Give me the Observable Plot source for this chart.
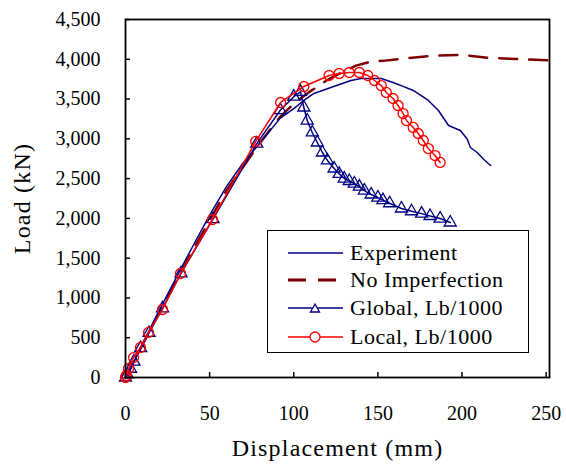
<!DOCTYPE html>
<html><head><meta charset="utf-8">
<script src="https://cdn.jsdelivr.net/npm/d3@7"></script>
<script src="https://cdn.jsdelivr.net/npm/@observablehq/plot@0.6"></script>
<style>
body{margin:0;background:#fff}
#wrap{position:relative;width:566px;height:466px}
#legend{position:absolute;left:267px;top:230px;width:262px;height:123px;border:1.5px solid #000;background:#fff;box-sizing:border-box;font-family:"Liberation Serif",serif;font-size:22px;letter-spacing:0.5px;color:#000}
.row{position:absolute;left:0;height:28px;line-height:28px;white-space:nowrap}
.row svg{position:absolute;left:20px;top:4px}
.row span{position:absolute;left:82px;top:0}
</style></head>
<body><div id="wrap"></div>
<script>
const xTicks = [0, 50, 100, 150, 200, 250];
const yTicks = [0, 500, 1000, 1500, 2000, 2500, 3000, 3500, 4000, 4500];
const seriesNames = ["Experiment", "No Imperfection", "Global, Lb/1000", "Local, Lb/1000"];
const xLabel = "Displacement (mm)";
const yLabel = "Load (kN)";

const experiment = [[0,0],[3,100],[10,420],[20,840],[30,1250],[40,1650],[50,2040],[60,2400],[70,2700],[80,2950],[92,3260],[100,3380],[106,3482],[112,3570],[122,3645],[134,3733],[140,3758],[152,3758],[159,3708],[165,3660],[171,3608],[176,3540],[180,3482],[186,3356],[192,3168],[199,3105],[203,3000],[205,2891],[209,2828],[213,2740],[217,2665]];
const noImperfection = [[0,0],[20,820],[40,1600],[60,2350],[80,2950],[92,3280],[100,3440],[110,3600],[120,3740],[130,3850],[137,3920],[146,3972],[153,3980],[165,4010],[185,4048],[200,4055],[215,4020],[235,4000],[252,3985]];
const globalImp = [[0,0],[1,40],[3,110],[5,200],[9,370],[14,560],[22,870],[33,1310],[52,1990],[78,2940],[92,3360],[100,3530],[104,3590],[106,3394],[108,3230],[111,3080],[114,2954],[117,2828],[120,2728],[124,2627],[127,2560],[130,2501],[133,2470],[136,2438],[139,2400],[142,2350],[146,2300],[150,2262],[153,2230],[157,2190],[164,2124],[170,2090],[176,2060],[181,2030],[187,1998],[193,1948]];
const localImp = [[0,0],[0.5,25],[1.8,113],[4.8,251],[8.9,377],[13.7,566],[22,855],[32.7,1307],[51.7,1986],[77.4,2967],[92.2,3457],[106,3658],[121,3796],[127,3821],[133,3834],[139,3834],[144,3796],[148,3733],[152,3670],[155,3583],[159,3507],[162,3419],[165,3318],[167,3230],[171,3143],[174,3067],[177,2979],[180,2878],[184,2790],[187,2703]];

const toObj = a => a.map(([x, y]) => ({x, y}));
const NAVY = "#000080", RED = "#ff0000", MAROON = "#800000";
const fmt = d3.format(",");

const chart = Plot.plot({
  width: 566, height: 466,
  marginLeft: 125, marginRight: 17, marginTop: 19, marginBottom: 89,
  style: {fontFamily: "Liberation Serif, serif", fontSize: "20px", color: "#000", background: "#fff"},
  x: {domain: [0, 252]},
  y: {domain: [0, 4500]},
  marks: [
    Plot.axisX({ticks: xTicks, tickSize: -5, tickPadding: 33, label: null, tickFormat: d => String(d), strokeWidth: 1.5}),
    Plot.axisY({ticks: yTicks, tickSize: -5, tickPadding: 30, label: null, tickFormat: fmt, strokeWidth: 1.5}),
    Plot.line(toObj(noImperfection), {x: "x", y: "y", stroke: MAROON, strokeWidth: 2.5, strokeDasharray: "18,12"}),
    Plot.line(toObj(experiment), {x: "x", y: "y", stroke: NAVY, strokeWidth: 1.5}),
    Plot.line(toObj(globalImp), {x: "x", y: "y", stroke: NAVY, strokeWidth: 1.5}),
    Plot.dot(toObj(globalImp), {x: "x", y: "y", symbol: "triangle", r: 4.5, stroke: NAVY, fill: "none", strokeWidth: 1.3}),
    Plot.line(toObj(localImp), {x: "x", y: "y", stroke: RED, strokeWidth: 1.5}),
    Plot.dot(toObj(localImp), {x: "x", y: "y", r: 5, stroke: RED, fill: "none", strokeWidth: 1.3}),
    Plot.frame({stroke: "#000", strokeWidth: 1.8}),
    Plot.text([xLabel], {frameAnchor: "bottom", textAnchor: "middle", lineAnchor: "middle", dy: 71, fontSize: 24}),
    Plot.text([yLabel], {frameAnchor: "left", textAnchor: "middle", lineAnchor: "middle", dx: -103, dy: 0, rotate: -90, fontSize: 24})
  ]
});
d3.select(chart).selectAll("text")
  .filter(function () { return this.textContent === xLabel || this.textContent === yLabel; })
  .attr("letter-spacing", "1.2px");
const wrap = document.getElementById("wrap");
wrap.appendChild(chart);

// legend
const legend = document.createElement("div");
legend.id = "legend";
const styles = [
  {stroke: NAVY, dash: null, w: 1.5, sym: null},
  {stroke: MAROON, dash: "18,12", w: 3, sym: null},
  {stroke: NAVY, dash: null, w: 1.5, sym: "tri"},
  {stroke: RED, dash: null, w: 1.5, sym: "circ"}
];
const rowCenters = [22, 49, 77, 106];
seriesNames.forEach((name, i) => {
  const s = styles[i];
  const row = document.createElement("div");
  row.className = "row";
  row.style.top = (rowCenters[i] - 14) + "px";
  let sym = "";
  if (s.sym === "tri") sym = `<path d="M27,6 L31.5,14 L22.5,14 Z" fill="white" stroke="${s.stroke}" stroke-width="1.3"/>`;
  if (s.sym === "circ") sym = `<circle cx="27" cy="10" r="5" fill="white" stroke="${s.stroke}" stroke-width="1.3"/>`;
  row.innerHTML = `<svg width="56" height="20"><line x1="0" x2="55" y1="10" y2="10" stroke="${s.stroke}" stroke-width="${s.w}" ${s.dash ? `stroke-dasharray="${s.dash}"` : ""}/>${sym}</svg><span>${name}</span>`;
  legend.appendChild(row);
});
wrap.appendChild(legend);
</script>
</body></html>
